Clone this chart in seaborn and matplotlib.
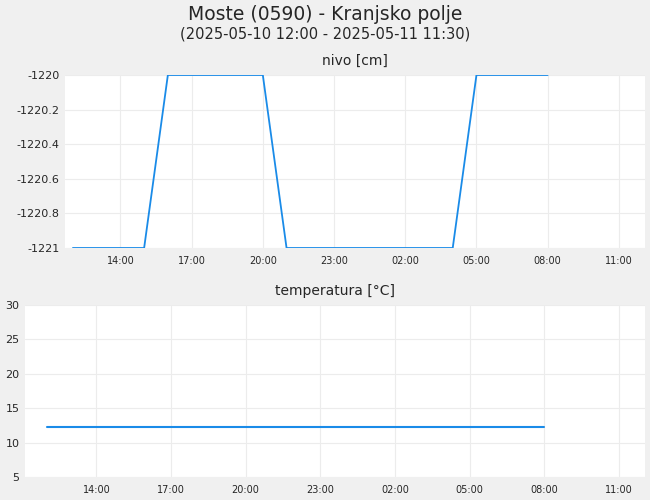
import matplotlib
matplotlib.use("Agg")
import matplotlib.pyplot as plt
import matplotlib.dates as mdates
import seaborn as sns
import pandas as pd

# hourly readings
level_times = pd.date_range("2025-05-10 12:00", "2025-05-11 08:00", freq="h")
level_vals = [-1221, -1221, -1221, -1221, -1220, -1220, -1220, -1220, -1220,
              -1221, -1221, -1221, -1221, -1221, -1221, -1221, -1221,
              -1220, -1220, -1220, -1220]
temp_times = pd.date_range("2025-05-10 12:00", "2025-05-11 08:00", freq="h")
temp_vals = [12.3] * len(temp_times)

tick_times = pd.date_range("2025-05-10 14:00", "2025-05-11 11:00", freq="3h")
xlim_top = (pd.Timestamp("2025-05-10 11:40"), pd.Timestamp("2025-05-11 12:06"))
xlim_bottom = (pd.Timestamp("2025-05-10 11:08"), pd.Timestamp("2025-05-11 12:03"))

sns.set_style("white")
plt.rcParams['font.family'] = ['DejaVu Sans']
line_color = "#1a8be8"

fig = plt.figure(figsize=(6.5, 5), dpi=100, facecolor="#f0f0f0")
ax1 = fig.add_axes([65/650, 1-248/500, 580/650, 173/500])
ax2 = fig.add_axes([25/650, 1-477/500, 620/650, 172/500])

df1 = pd.DataFrame({"t": level_times, "v": level_vals})
df2 = pd.DataFrame({"t": temp_times, "v": temp_vals})
sns.lineplot(data=df1, x="t", y="v", ax=ax1, color=line_color, linewidth=1.3)
sns.lineplot(data=df2, x="t", y="v", ax=ax2, color=line_color, linewidth=1.5)

ax1.set_ylim(-1221, -1220)
ax1.set_yticks([-1221, -1220.8, -1220.6, -1220.4, -1220.2, -1220])
ax1.set_yticklabels(["-1221", "-1220.8", "-1220.6", "-1220.4", "-1220.2", "-1220"])
ax2.set_ylim(5, 30)
ax2.set_yticks([5, 10, 15, 20, 25, 30])

for ax, title, xl in [(ax1, "nivo [cm]", xlim_top), (ax2, "temperatura [°C]", xlim_bottom)]:
    ax.set_facecolor("white")
    ax.set_xlim(*xl)
    ax.set_xticks(tick_times)
    ax.xaxis.set_major_formatter(mdates.DateFormatter("%H:%M"))
    ax.tick_params(axis="x", labelsize=7, length=0, pad=6)
    ax.tick_params(axis="y", labelsize=8, length=0, pad=4)
    ax.grid(True, color="#ececec", linewidth=0.8)
    for s in ax.spines.values():
        s.set_visible(False)
    ax.set_xlabel("")
    ax.set_ylabel("")
    ax.set_title(title, fontsize=10, pad=7)

fig.text(0.5, 1-14/500, "Moste (0590) - Kranjsko polje", ha="center", va="center", fontsize=13.5)
fig.text(0.5, 1-34/500, "(2025-05-10 12:00 - 2025-05-11 11:30)", ha="center", va="center", fontsize=10.5)

fig.savefig("out.png", dpi=100, facecolor=fig.get_facecolor())
